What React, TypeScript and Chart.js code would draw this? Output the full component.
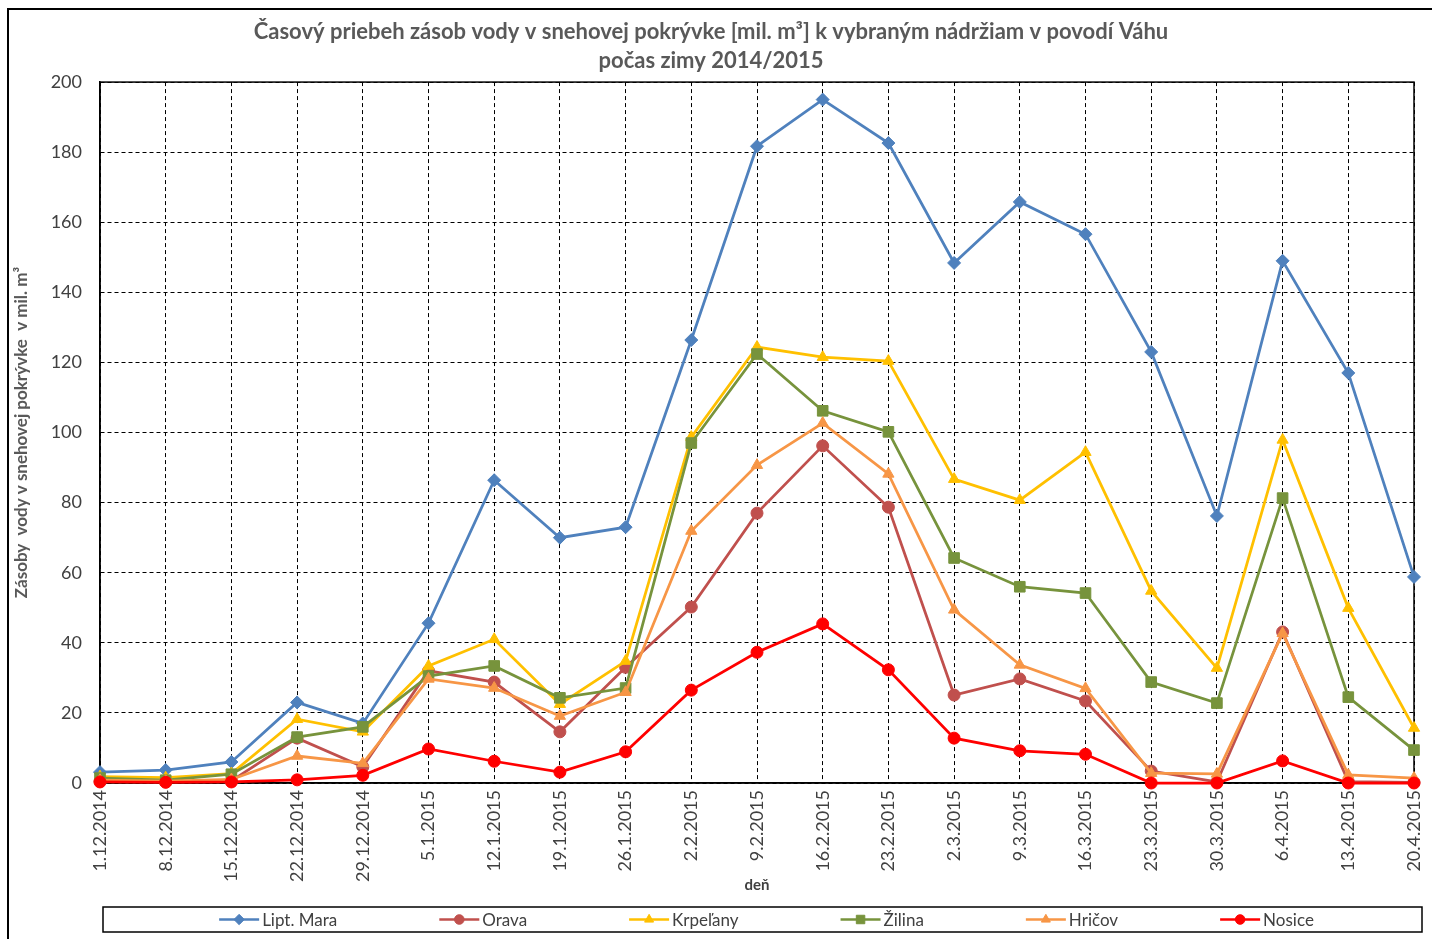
import React, { useEffect, useRef } from 'react';
import { Chart, registerables } from 'chart.js';
import { drawPoint } from 'chart.js/helpers';

Chart.register(...registerables);

const categories = [
  '1.12.2014', '8.12.2014', '15.12.2014', '22.12.2014', '29.12.2014',
  '5.1.2015', '12.1.2015', '19.1.2015', '26.1.2015', '2.2.2015',
  '9.2.2015', '16.2.2015', '23.2.2015', '2.3.2015', '9.3.2015',
  '16.3.2015', '23.3.2015', '30.3.2015', '6.4.2015', '13.4.2015', '20.4.2015',
];

const liptMara = [3.1, 3.7, 6, 23, 17, 45.6, 86.4, 70, 73, 126.4, 181.7, 195, 182.6, 148.4, 165.8, 156.6, 123, 76.2, 149, 117, 58.8];
const orava = [0.5, 0.3, 0.6, 12.8, 4.6, 32, 28.8, 14.6, 33, 50.2, 77, 96.2, 78.7, 25.1, 29.7, 23.4, 3.4, 0.3, 43.1, 0.4, 0.2];
const krpelany = [1.8, 1.5, 2.7, 18.2, 14.6, 33.4, 41, 22.5, 34.8, 98.7, 124.4, 121.5, 120.4, 86.7, 80.7, 94.4, 54.8, 32.8, 97.9, 49.9, 15.7];
const zilina = [1.4, 0.8, 2.5, 13.1, 16, 30.5, 33.4, 24.3, 27.1, 97, 122.4, 106.2, 100.2, 64.2, 56, 54.2, 28.8, 22.8, 81.3, 24.5, 9.4];
const hricov = [0.8, 0.5, 1, 7.7, 5.6, 29.7, 27.1, 19.1, 25.9, 71.9, 90.7, 102.7, 88.2, 49.4, 33.7, 27, 2.8, 2.6, 42.7, 2.3, 1.4];
const nosice = [0.3, 0.2, 0.3, 0.9, 2.2, 9.7, 6.2, 3.1, 8.9, 26.5, 37.3, 45.4, 32.3, 12.8, 9.2, 8.2, 0, 0, 6.3, 0, 0];

const seriesNames = ['Lipt. Mara', 'Orava', 'Krpeľany', 'Žilina', 'Hričov', 'Nosice'];
const seriesValues = [liptMara, orava, krpelany, zilina, hricov, nosice];
const seriesColors = ['#4F81BD', '#C0504D', '#FFC000', '#77933C', '#F79646', '#FF0000'];
const seriesMarkers = ['rectRot', 'circle', 'triangle', 'rect', 'triangle', 'circle'];
const seriesMarkerSizes = [6.5, 6, 6.5, 7.5, 6.5, 6];

const yMin = 0;
const yMax = 200;
const yStep = 20;

const titleLines = [
  'Časový priebeh zásob vody v snehovej pokrývke [mil. m³] k vybraným nádržiam v povodí Váhu',
  'počas zimy 2014/2015',
];
const yTitle = 'Zásoby  vody v snehovej pokrývke  v mil. m³';
const xTitle = 'deň';

const FONT = 'Lato, "Noto Sans", sans-serif';

const framePlugin = {
  id: 'frames',
  beforeDraw(chart: any) {
    const ctx = chart.ctx;
    ctx.save();
    ctx.strokeStyle = '#000';
    ctx.lineWidth = 2;
    ctx.beginPath();
    ctx.moveTo(8, chart.height);
    ctx.lineTo(8, 9);
    ctx.lineTo(chart.width, 9);
    ctx.stroke();
    ctx.restore();
  },
  beforeDatasetsDraw(chart: any) {
    const { ctx, chartArea } = chart;
    ctx.save();
    ctx.strokeStyle = '#000';
    ctx.lineWidth = 1.5;
    ctx.strokeRect(chartArea.left, chartArea.top, chartArea.right - chartArea.left, chartArea.bottom - chartArea.top);
    ctx.restore();
  },
  afterDraw(chart: any) {
    const { ctx, chartArea } = chart;
    const boxLeft = chartArea.left + 3;
    const boxRight = chart.width - 10;
    const boxTop = 907;
    const boxBottom = 932;
    ctx.save();
    ctx.strokeStyle = '#000';
    ctx.lineWidth = 1.5;
    ctx.strokeRect(boxLeft, boxTop, boxRight - boxLeft, boxBottom - boxTop);

    ctx.font = '17px ' + FONT;
    ctx.textBaseline = 'middle';
    ctx.textAlign = 'left';
    const lineLen = 40;
    const textGap = 3;
    const itemGap = 102;
    const datasets = chart.data.datasets;
    const widths = datasets.map((ds: any) => lineLen + textGap + ctx.measureText(ds.label).width);
    const total = widths.reduce((a: number, b: number) => a + b, 0) + itemGap * (datasets.length - 1);
    const center = (boxLeft + boxRight) / 2 + 4;
    let x = center - total / 2;
    const cy = (boxTop + boxBottom) / 2;
    datasets.forEach((ds: any, i: number) => {
      ctx.strokeStyle = ds.borderColor;
      ctx.fillStyle = ds.pointBackgroundColor;
      ctx.lineWidth = 2.5;
      ctx.beginPath();
      ctx.moveTo(x, cy);
      ctx.lineTo(x + lineLen, cy);
      ctx.stroke();
      ctx.lineWidth = 1;
      drawPoint(ctx, { pointStyle: ds.pointStyle, radius: ds.pointRadius * 0.8, rotation: 0, borderWidth: 1 } as any, x + lineLen / 2, cy);
      ctx.fillStyle = '#404040';
      ctx.fillText(ds.label, x + lineLen + textGap, cy + 1);
      x += widths[i] + itemGap;
    });
    ctx.restore();
  },
};

export default function App() {
  const canvasRef = useRef<HTMLCanvasElement | null>(null);

  useEffect(() => {
    const canvas = canvasRef.current;
    if (!canvas) return;
    const n = seriesNames.length;
    const datasets = seriesNames.map((name, i) => ({
      label: name,
      data: seriesValues[i],
      borderColor: seriesColors[i],
      backgroundColor: seriesColors[i],
      pointBackgroundColor: seriesColors[i],
      pointBorderColor: seriesColors[i],
      pointBorderWidth: 1,
      pointStyle: seriesMarkers[i],
      pointRadius: seriesMarkerSizes[i],
      borderWidth: 2.75,
      tension: 0,
      order: n - i,
      clip: false as any,
    }));

    const chart = new Chart(canvas, {
      type: 'line',
      data: { labels: categories, datasets },
      plugins: [framePlugin],
      options: {
        responsive: false,
        animation: false,
        devicePixelRatio: 1,
        layout: { padding: { left: 8, right: 18, top: 10, bottom: 39 } },
        plugins: {
          legend: { display: false },
          tooltip: { enabled: false },
          title: {
            display: true,
            text: titleLines,
            color: '#595959',
            font: { family: FONT, size: 22, weight: 'bold', lineHeight: 1.32 },
            padding: { top: 7, bottom: 7 },
          },
        },
        scales: {
          x: {
            type: 'category',
            offset: false,
            grid: { color: '#000', lineWidth: 1, drawTicks: false },
            border: { display: true, color: '#000', width: 1.5, dash: [4, 3] },
            ticks: {
              autoSkip: false,
              maxRotation: 90,
              minRotation: 90,
              padding: 7,
              color: '#404040',
              font: { family: FONT, size: 18 },
            },
            title: {
              display: true,
              text: xTitle,
              color: '#404040',
              font: { family: FONT, size: 15, weight: 'bold' },
              padding: 6,
            },
            afterFit: (s: any) => {
              s.height = 117;
              s.paddingLeft = 0;
              s.paddingRight = 0;
            },
          },
          y: {
            min: yMin,
            max: yMax,
            grid: { color: '#000', lineWidth: 1, drawTicks: false },
            border: { display: true, color: '#000', width: 1.5, dash: [4, 3] },
            ticks: {
              stepSize: yStep,
              padding: 18,
              color: '#404040',
              font: { family: FONT, size: 18 },
            },
            title: {
              display: true,
              text: yTitle,
              color: '#595959',
              font: { family: FONT, size: 17, weight: 'bold' },
              padding: 3,
            },
            afterFit: (s: any) => { s.width = 92; },
          },
        },
      } as any,
    });
    return () => chart.destroy();
  }, []);

  return (
    <div style={{ position: 'fixed', left: 0, top: 0, width: 1432, height: 939, background: '#fff' }}>
      <canvas ref={canvasRef} width={1432} height={939} style={{ display: 'block', width: 1432, height: 939 }} />
    </div>
  );
}
